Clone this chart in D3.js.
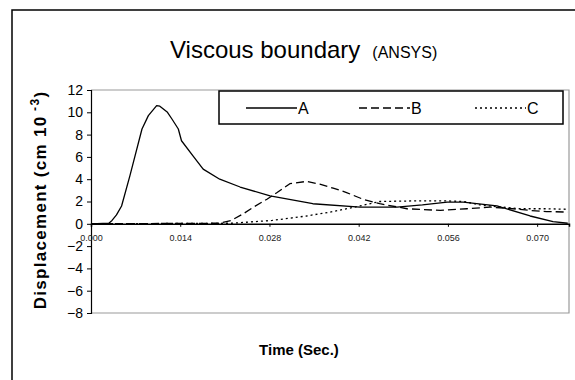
<!DOCTYPE html>
<html>
<head>
<meta charset="utf-8">
<script src="https://cdn.jsdelivr.net/npm/d3@7"></script>
<style>
  body { margin: 0; background: #fff; }
  svg { display: block; }
</style>
</head>
<body>
<svg id="chart" width="575" height="380"></svg>
<script>
// time in seconds, displacement in cm x 10^-3
const timeA = [0, 0.0028, 0.0033, 0.0040, 0.0048, 0.0061, 0.0080, 0.0090, 0.0103, 0.0108, 0.0120, 0.0127, 0.0137, 0.0142, 0.0160, 0.0176, 0.0202, 0.0234, 0.0281, 0.0348, 0.0422, 0.0480, 0.0520, 0.0559, 0.0584, 0.0637, 0.0689, 0.0725, 0.0748];
const dispA = [0, 0.05, 0.3, 0.8, 1.6, 4.3, 8.5, 9.7, 10.6, 10.55, 10.0, 9.4, 8.5, 7.45, 6.1, 4.9, 4.0, 3.3, 2.5, 1.8, 1.5, 1.5, 1.7, 1.95, 1.95, 1.6, 0.7, 0.2, 0.05];

const timeB = [0, 0.0200, 0.0220, 0.0239, 0.0255, 0.0276, 0.0292, 0.0312, 0.0338, 0.0359, 0.0380, 0.0401, 0.0427, 0.0453, 0.0496, 0.0548, 0.0590, 0.0626, 0.0662, 0.0689, 0.0715, 0.0748];
const dispB = [0, 0.05, 0.3, 0.9, 1.5, 2.2, 2.8, 3.6, 3.8, 3.55, 3.2, 2.8, 2.2, 1.8, 1.35, 1.2, 1.35, 1.5, 1.35, 1.2, 1.1, 1.05];

const timeC = [0, 0.0220, 0.0284, 0.0338, 0.0375, 0.0422, 0.0453, 0.0505, 0.0559, 0.0585, 0.0610, 0.0635, 0.0673, 0.0715, 0.0748];
const dispC = [0, 0.05, 0.3, 0.7, 1.05, 1.6, 2.0, 2.05, 2.05, 2.0, 1.7, 1.55, 1.35, 1.35, 1.3];

const seriesNames = ["A", "B", "C"];
const xTicks = [0, 0.014, 0.028, 0.042, 0.056, 0.070];
const yTicks = [12, 10, 8, 6, 4, 2, 0, -2, -4, -6, -8];

const series = [
  {name: seriesNames[0], t: timeA, v: dispA, dash: null},
  {name: seriesNames[1], t: timeB, v: dispB, dash: "8,4"},
  {name: seriesNames[2], t: timeC, v: dispC, dash: "2,3"}
];

let svg = d3.select("#chart");
const plot = {left: 91, right: 569, top: 90, bottom: 313};
const font = "'Liberation Sans', Arial, sans-serif";

// outer chart frame, runs off the page on the right and bottom
svg.append("rect")
  .attr("x", 12).attr("y", 10)
  .attr("width", 620).attr("height", 420)
  .attr("fill", "#fff")
  .attr("stroke", "#000")
  .attr("stroke-width", 1.5);

let x = d3.scaleLinear().domain([0, 0.075]).range([plot.left, plot.right]);
let y = d3.scaleLinear().domain([-8, 12]).range([plot.bottom, plot.top]);

// plot area border (grey)
svg.append("path")
  .attr("d", "M" + plot.left + "," + plot.top + "H" + plot.right + "V" + plot.bottom + "H" + plot.left)
  .attr("fill", "none")
  .attr("stroke", "#9a9a9a")
  .attr("stroke-width", 1.2);

// y axis
let yAxis = svg.append("g")
  .attr("transform", "translate(" + plot.left + ",0)")
  .call(d3.axisLeft(y).tickValues(yTicks).tickSize(4).tickPadding(4).tickFormat(d3.format("d")));
yAxis.select(".domain").attr("stroke", "#000").attr("stroke-width", 1.2);
yAxis.selectAll("line").attr("stroke", "#000");
yAxis.selectAll("text")
  .attr("font-family", font)
  .attr("font-size", 14)
  .attr("fill", "#000");

// x axis sits on y = 0
let xAxis = svg.append("g")
  .attr("transform", "translate(0," + y(0) + ")")
  .call(d3.axisBottom(x).tickValues(xTicks).tickSize(3).tickPadding(8).tickFormat(d3.format(".3f")));
xAxis.select(".domain").attr("stroke", "#000").attr("stroke-width", 1.5);
xAxis.selectAll("line").attr("stroke", "#000");
xAxis.selectAll("text")
  .attr("font-family", font)
  .attr("font-size", 9)
  .attr("fill", "#222");

// curves
let line = d3.line()
  .x(d => x(d[0]))
  .y(d => y(d[1]));

svg.append("g")
  .selectAll("path")
  .data(series)
  .join("path")
  .attr("d", s => line(s.t.map((t, i) => [t, s.v[i]])))
  .attr("fill", "none")
  .attr("stroke", "#000")
  .attr("stroke-width", 1.3)
  .attr("stroke-linejoin", "round")
  .attr("stroke-dasharray", s => s.dash);

// legend
let legend = svg.append("g");
legend.append("rect")
  .attr("x", 219).attr("y", 91)
  .attr("width", 344).attr("height", 33)
  .attr("fill", "#fff")
  .attr("stroke", "#000")
  .attr("stroke-width", 1.5);

const legendX = [246, 359, 475];
series.forEach(function (s, i) {
  legend.append("line")
    .attr("x1", legendX[i]).attr("x2", legendX[i] + 51)
    .attr("y1", 108).attr("y2", 108)
    .attr("stroke", "#000")
    .attr("stroke-width", 1.3)
    .attr("stroke-dasharray", s.dash);
  legend.append("text")
    .attr("x", legendX[i] + 52)
    .attr("y", 114)
    .attr("font-family", font)
    .attr("font-size", 16)
    .text(s.name);
});

// title
let title = svg.append("text")
  .attr("x", 170)
  .attr("y", 58)
  .attr("font-family", font)
  .attr("fill", "#000");
title.append("tspan").attr("font-size", 24).text("Viscous boundary");
title.append("tspan").attr("font-size", 16).attr("dx", 12).text("(ANSYS)");

// axis titles
svg.append("text")
  .attr("x", 299)
  .attr("y", 355)
  .attr("text-anchor", "middle")
  .attr("font-family", font)
  .attr("font-weight", "bold")
  .attr("font-size", 15)
  .text("Time (Sec.)");

let yLabel = svg.append("text")
  .attr("transform", "translate(46,200)rotate(-90)")
  .attr("text-anchor", "middle")
  .attr("font-family", font)
  .attr("font-weight", "bold")
  .attr("font-size", 17)
  .attr("letter-spacing", 1.3);
yLabel.append("tspan").text("Displacement (cm 10");
yLabel.append("tspan").attr("font-size", 12).attr("dy", -7).text(" -3");
yLabel.append("tspan").attr("dy", 7).text(")");
</script>
</body>
</html>
